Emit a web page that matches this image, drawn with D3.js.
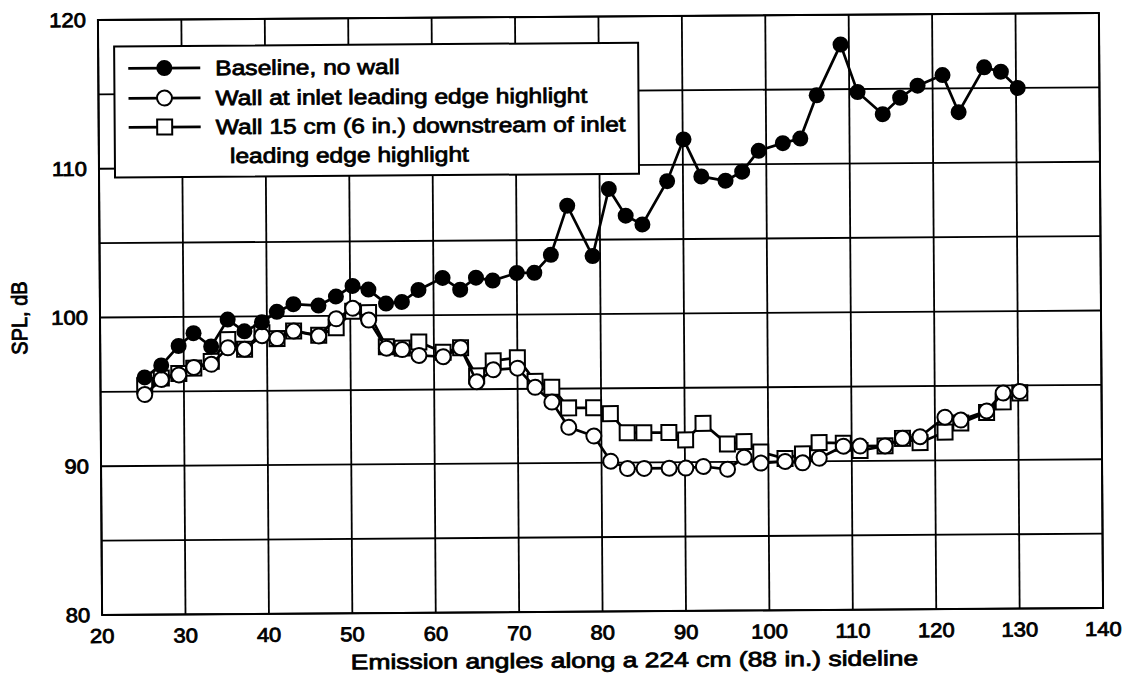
<!DOCTYPE html>
<html>
<head>
<meta charset="utf-8">
<script src="https://cdn.jsdelivr.net/npm/d3@7/dist/d3.min.js"></script>
<style>
  html, body { margin: 0; padding: 0; background: #fff; }
  svg { display: block; }
  text { font-family: "Liberation Sans", Arial, Helvetica, sans-serif; fill: #000; }
</style>
</head>
<body>
<svg id="chart" width="1129" height="682"></svg>
<script>
// Emission angle (deg) of every measurement station
const angles = [25.3, 27.3, 29.4, 31.2, 33.3, 35.3, 37.3, 39.4, 41.2, 43.2, 46.2, 48.3,
  50.3, 52.2, 54.3, 56.2, 58.2, 61.1, 63.2, 65.1, 67.1, 70.0, 72.1, 74.1,
  76.1, 79.1, 81.1, 83.1, 85.1, 88.1, 90.1, 92.2, 95.1, 97.1, 99.1, 102.0,
  104.1, 106.1, 109.0, 111.0, 114.0, 116.1, 118.2, 121.2, 123.1, 126.2, 128.2, 130.2];

// SPL, dB — baseline, no wall
const baseline = [95.95, 96.75, 98.05, 98.9, 98.0, 99.8, 99.0, 99.6, 100.3, 100.8, 100.7, 101.3,
  102.0, 101.75, 100.8, 100.9, 101.7, 102.5, 101.7, 102.5, 102.3, 102.8, 102.8, 104.0,
  107.3, 103.9, 108.4, 106.6, 106.0, 108.9, 111.7, 109.2, 108.9, 109.5, 110.9, 111.4,
  111.7, 114.6, 118.0, 114.8, 113.3, 114.4, 115.2, 115.9, 113.4, 116.4, 116.1, 115.0];

// SPL, dB — wall at inlet leading edge highlight
const wallInlet = [94.8, 95.8, 96.1, 96.6, 96.8, 97.9, 97.8, 98.7, 98.5, 99.0, 98.65, 99.8,
  100.5, 99.7, 97.8, 97.7, 97.3, 97.2, 97.8, 95.5, 96.3, 96.4, 95.1, 94.1,
  92.4, 91.8, 90.1, 89.6, 89.6, 89.6, 89.6, 89.7, 89.5, 90.3, 89.9, 90.0,
  89.9, 90.2, 91.0, 91.0, 91.0, 91.5, 91.6, 92.9, 92.7, 93.3, 94.5, 94.6];

// SPL, dB — wall 15 cm (6 in.) downstream of inlet leading edge highlight
const wallDown = [95.4, 95.9, 96.2, 96.55, 97.0, 98.45, 97.8, 98.9, 98.5, 99.0, 98.7, 99.2,
  100.3, 100.2, 97.9, 97.8, 98.2, 97.5, 97.8, 95.9, 96.9, 97.1, 95.5, 95.1,
  93.7, 93.7, 93.3, 92.0, 92.0, 92.0, 91.5, 92.6, 91.2, 91.35, 90.65, 90.2,
  90.5, 91.25, 91.2, 90.7, 91.0, 91.5, 91.2, 91.9, 92.5, 93.2, 93.9, 94.5];

const xTicks = [20, 30, 40, 50, 60, 70, 80, 90, 100, 110, 120, 130, 140];
const yTicks = [80, 90, 100, 110, 120];
const yGrid = [80, 85, 90, 95, 100, 105, 110, 115, 120];

const legendLabels = [
  ["Baseline, no wall"],
  ["Wall at inlet leading edge highlight"],
  ["Wall 15 cm (6 in.) downstream of inlet", "leading edge highlight"]
];

const xTitle = "Emission angles along a 224 cm (88 in.) sideline";
const yTitle = "SPL, dB";

const svg = d3.select("#chart");
// whole sheet sits at a slight tilt
const root = svg.append("g").attr("transform", "rotate(-0.4, 600, 314)");

const plotL = 100, plotR = 1101, plotT = 16.5, plotB = 611.5;

const x = d3.scaleLinear().domain([20, 140]).range([plotL, plotR]);
const y = d3.scaleLinear().domain([80, 120]).range([plotB, plotT]);

// Helper: wide, heavy Helvetica-like text
function label(g, str, px, py, size, anchor, sx, rotate) {
  const t = g.append("g")
    .attr("transform", rotate
      ? `translate(${px},${py}) rotate(-90) scale(1,${sx})`
      : `translate(${px},${py}) scale(${sx},1)`);
  t.append("text")
    .attr("text-anchor", anchor)
    .attr("font-size", size)
    .attr("stroke", "#000")
    .attr("stroke-width", 0.8)
    .text(str);
  return t;
}

// Grid
const grid = root.append("g").attr("stroke", "#000").attr("stroke-width", 1.8);
grid.selectAll("line.v").data(xTicks).join("line")
  .attr("class", "v")
  .attr("x1", d => x(d)).attr("x2", d => x(d))
  .attr("y1", plotT).attr("y2", plotB);
grid.selectAll("line.h").data(yGrid).join("line")
  .attr("class", "h")
  .attr("x1", plotL).attr("x2", plotR)
  .attr("y1", d => y(d)).attr("y2", d => y(d));

root.append("rect")
  .attr("x", plotL).attr("y", plotT)
  .attr("width", plotR - plotL).attr("height", plotB - plotT)
  .attr("fill", "none").attr("stroke", "#000").attr("stroke-width", 2);

// Tick labels
const tl = root.append("g");
xTicks.forEach(v => label(tl, String(v), x(v), plotB + 28, 20, "middle", 1.1));
yTicks.forEach(v => label(tl, String(v), 88, y(v) + 7, 20, "end", 1.1));

// Axis titles
label(root, xTitle, 632, plotB + 56, 21, "middle", 1.26);
label(root, yTitle, 27, y(100), 20, "middle", 1.1, true);

// Series
const line = d3.line().x(d => x(d[0])).y(d => y(d[1]));
function pts(vals) { return angles.map((a, i) => [a, vals[i]]); }

const lw = 2.7, ms = 2;

// Downstream wall: open squares
const sq = pts(wallDown);
root.append("path").datum(sq).attr("d", line)
  .attr("fill", "none").attr("stroke", "#000").attr("stroke-width", lw);
root.append("g").selectAll("rect").data(sq).join("rect")
  .attr("x", d => x(d[0]) - 7.5).attr("y", d => y(d[1]) - 7.5)
  .attr("width", 15).attr("height", 15)
  .attr("fill", "#fff").attr("stroke", "#000").attr("stroke-width", ms);

// Inlet wall: open circles
const oc = pts(wallInlet);
root.append("path").datum(oc).attr("d", line)
  .attr("fill", "none").attr("stroke", "#000").attr("stroke-width", lw);
root.append("g").selectAll("circle").data(oc).join("circle")
  .attr("cx", d => x(d[0])).attr("cy", d => y(d[1])).attr("r", 7.5)
  .attr("fill", "#fff").attr("stroke", "#000").attr("stroke-width", ms);

// Baseline: filled circles
const fc = pts(baseline);
root.append("path").datum(fc).attr("d", line)
  .attr("fill", "none").attr("stroke", "#000").attr("stroke-width", lw);
root.append("g").selectAll("circle").data(fc).join("circle")
  .attr("cx", d => x(d[0])).attr("cy", d => y(d[1])).attr("r", 8)
  .attr("fill", "#000");

// Legend
const lg = root.append("g");
lg.append("rect").attr("x", 116).attr("y", 43).attr("width", 524).attr("height", 131)
  .attr("fill", "#fff").attr("stroke", "#000").attr("stroke-width", 2);
const rowsY = [65, 95, 124];
rowsY.forEach((ry, i) => {
  lg.append("line").attr("x1", 130).attr("x2", 202).attr("y1", ry).attr("y2", ry)
    .attr("stroke", "#000").attr("stroke-width", lw);
  if (i === 0) {
    lg.append("circle").attr("cx", 166).attr("cy", ry).attr("r", 8).attr("fill", "#000");
  } else if (i === 1) {
    lg.append("circle").attr("cx", 166).attr("cy", ry).attr("r", 7.5)
      .attr("fill", "#fff").attr("stroke", "#000").attr("stroke-width", ms);
  } else {
    lg.append("rect").attr("x", 166 - 7.5).attr("y", ry - 7.5).attr("width", 15).attr("height", 15)
      .attr("fill", "#fff").attr("stroke", "#000").attr("stroke-width", ms);
  }
  label(lg, legendLabels[i][0], 217, ry + 7.5, 21, "start", 1.17);
  if (legendLabels[i][1]) label(lg, legendLabels[i][1], 231, ry + 36.5, 21, "start", 1.17);
});
</script>
</body>
</html>
